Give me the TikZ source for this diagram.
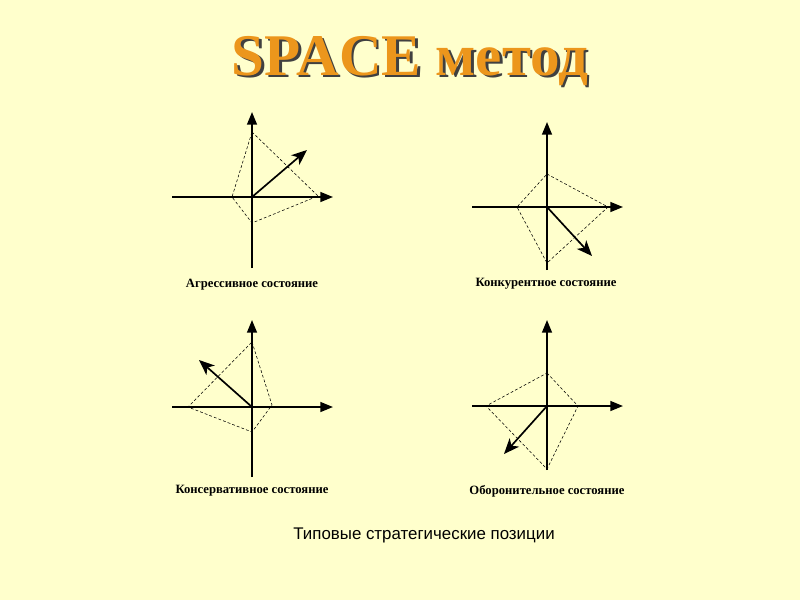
\documentclass[tikz,border=0pt]{standalone}
\usepackage{fontspec}
\setmainfont{Liberation Serif}
\newfontfamily\capfont{Liberation Sans}
\usetikzlibrary{arrows.meta}
\definecolor{slidebg}{RGB}{255,255,204}
\definecolor{titleorange}{RGB}{236,150,28}
\newcommand\shadowtext[1]{\makebox[0pt][l]{\hspace{1.8pt}\raisebox{-1.8pt}{\color{black!75}#1}}{\color{titleorange}#1}}

\begin{document}
\begin{tikzpicture}[x=0.025cm, y=-0.025cm,
  axis/.style={line width=1.3pt, -{Triangle[length=9pt,width=7pt]}},
  plane/.style={line width=1.3pt},
  area/.style={line width=0.4pt, dash pattern=on 2pt off 1.5pt},
  vec/.style={line width=1.2pt, -{Stealth[length=11pt,width=9pt,inset=3pt]}},
  state/.style={font=\bfseries\fontsize{9}{11}\selectfont, inner sep=0pt}]
  \fill[slidebg] (0,0) rectangle (800,600);
  \useasboundingbox (0,0) rectangle (800,600);

  % title with shadow
  \node[font=\bfseries\fontsize{42}{46}\selectfont] (title) at (410,62) {\shadowtext{SPACE метод}};

  % aggressive
  \coordinate (o1) at (252,197);
  \draw[plane] (252,268) -- (o1);
  \draw[axis] (o1) -- (252,112);
  \draw[plane] (172,197) -- (o1);
  \draw[axis] (o1) -- (333,197);
  \draw[area] (252,132) -- (318,196) -- (252,223) -- (232,197) -- cycle;
  \draw[vec] (o1) -- (307,150);
  \node[state] (agr) at (252,285) {Агрессивное состояние};

  % competitive
  \coordinate (o2) at (547,207);
  \draw[plane] (547,270) -- (o2);
  \draw[axis] (o2) -- (547,122);
  \draw[plane] (472,207) -- (o2);
  \draw[axis] (o2) -- (623,207);
  \draw[area] (547,174) -- (608,207) -- (547,263) -- (517,207) -- cycle;
  \draw[vec] (o2) -- (592,256);
  \node[state] (konk) at (546,284) {Конкурентное состояние};

  % conservative
  \coordinate (o3) at (252,407);
  \draw[plane] (252,477) -- (o3);
  \draw[axis] (o3) -- (252,320);
  \draw[plane] (172,407) -- (o3);
  \draw[axis] (o3) -- (333,407);
  \draw[area] (252,342) -- (272,405) -- (252,432) -- (188,407) -- cycle;
  \draw[vec] (o3) -- (199,360);
  \node[state] (kons) at (252,491) {Консервативное состояние};

  % defensive
  \coordinate (o4) at (547,406);
  \draw[plane] (547,470) -- (o4);
  \draw[axis] (o4) -- (547,320);
  \draw[plane] (472,406) -- (o4);
  \draw[axis] (o4) -- (623,406);
  \draw[area] (547,373) -- (578,406) -- (547,469) -- (486,406) -- cycle;
  \draw[vec] (o4) -- (504,454);
  \node[state] (obor) at (547,491) {Оборонительное состояние};

  \node[font=\capfont\fontsize{12}{14}\selectfont] (caption) at (424,535) {Типовые стратегические позиции};
\end{tikzpicture}
\end{document}
